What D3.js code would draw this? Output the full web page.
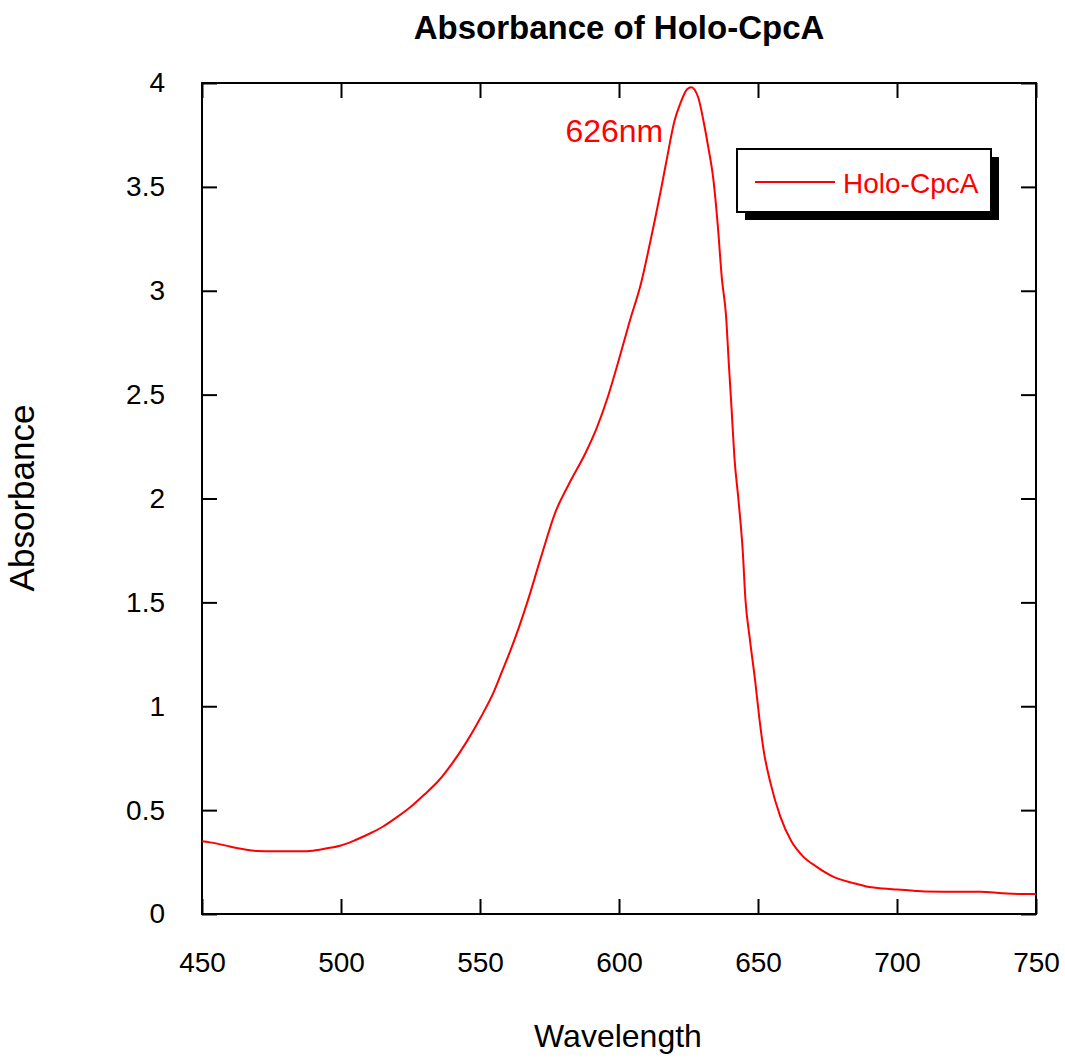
<!DOCTYPE html>
<html>
<head>
<meta charset="utf-8">
<script src="https://cdn.jsdelivr.net/npm/d3@7"></script>
<style>
  body { margin: 0; background: #fff; }
  text { font-family: "Liberation Sans", Arial, sans-serif; }
</style>
</head>
<body>
<svg id="viz" width="1065" height="1059"></svg>
<script>
const svg = d3.select("#viz");
const width = +svg.attr("width");
const height = +svg.attr("height");
const margin = { top: 83, right: 29, bottom: 145, left: 202 };

// data
const wavelength = [450, 455, 460, 465, 470, 475, 480, 485, 490, 495, 500, 505, 510, 515, 520, 525, 530, 535, 540, 545,
  550, 555, 558, 561, 564, 567, 572, 577, 582, 588, 592, 596, 600, 604, 608, 611, 615, 617, 620, 622, 624.5, 626,
  628.5, 630.5, 632, 634, 635.5, 637, 638.5, 639.5, 640.5, 641.5, 643, 644.5, 645.5, 647, 649, 650.5, 652, 654.5,
  658, 662, 666, 671, 677, 684, 690, 695, 700, 706, 710, 720, 730, 738, 745, 750];
const absorbance = [0.35, 0.34, 0.325, 0.312, 0.303, 0.302, 0.302, 0.302, 0.305, 0.316, 0.33, 0.355, 0.385, 0.42, 0.465,
  0.515, 0.575, 0.64, 0.725, 0.825, 0.94, 1.07, 1.17, 1.27, 1.38, 1.5, 1.72, 1.93, 2.07, 2.22, 2.34, 2.49, 2.67, 2.86,
  3.04, 3.22, 3.48, 3.62, 3.82, 3.9, 3.97, 3.98, 3.93, 3.81, 3.7, 3.53, 3.32, 3.06, 2.88, 2.65, 2.43, 2.2, 1.99, 1.75,
  1.51, 1.33, 1.12, 0.94, 0.79, 0.63, 0.47, 0.35, 0.28, 0.228, 0.18, 0.15, 0.13, 0.123, 0.118, 0.112, 0.108, 0.107,
  0.107, 0.1, 0.096, 0.096];
const xTicks = [450, 500, 550, 600, 650, 700, 750];
const yTicks = [0, 0.5, 1, 1.5, 2, 2.5, 3, 3.5, 4];
const seriesName = "Holo-CpcA";
const peakLabel = "626nm";
const peakWavelength = 626;

const points = wavelength.map((w, i) => ({ w, a: absorbance[i] }));

const x = d3.scaleLinear().domain([450, 750]).range([margin.left, width - margin.right]);
const y = d3.scaleLinear().domain([0, 4]).range([height - margin.bottom, margin.top]);
const tickLen = 15;
const fmt = d3.format("~g");

function styleAxis(g) {
  g.select(".domain").remove();
  g.selectAll(".tick line").attr("stroke", "#000").attr("stroke-width", 2);
}

// bottom axis (ticks inside)
svg.append("g")
  .attr("transform", `translate(0,${y(0)})`)
  .call(d3.axisBottom(x).tickValues(xTicks).tickSizeInner(-tickLen).tickSizeOuter(0).tickPadding(tickLen + 23).tickFormat(fmt))
  .call(styleAxis)
  .selectAll("text").attr("font-size", "28px").attr("fill", "#000");

// top ticks
svg.append("g")
  .attr("transform", `translate(0,${y(4)})`)
  .call(d3.axisTop(x).tickValues(xTicks).tickSizeInner(-tickLen).tickSizeOuter(0).tickFormat(""))
  .call(styleAxis);

// left axis
svg.append("g")
  .attr("transform", `translate(${x(450)},0)`)
  .call(d3.axisLeft(y).tickValues(yTicks).tickSizeInner(-tickLen).tickSizeOuter(0).tickPadding(tickLen + 22).tickFormat(fmt))
  .call(styleAxis)
  .selectAll("text").attr("font-size", "28px").attr("fill", "#000");

// right ticks
svg.append("g")
  .attr("transform", `translate(${x(750)},0)`)
  .call(d3.axisRight(y).tickValues(yTicks).tickSizeInner(-tickLen).tickSizeOuter(0).tickFormat(""))
  .call(styleAxis);

// frame
svg.append("rect")
  .attr("x", x(450)).attr("y", y(4))
  .attr("width", x(750) - x(450)).attr("height", y(0) - y(4))
  .attr("fill", "none").attr("stroke", "#000").attr("stroke-width", 2);

// curve
const line = d3.line().x(d => x(d.w)).y(d => y(d.a)).curve(d3.curveMonotoneX);
svg.append("path")
  .datum(points)
  .attr("fill", "none")
  .attr("stroke", "#ff0000")
  .attr("stroke-width", 2)
  .attr("d", line);

// peak annotation
svg.append("text")
  .attr("x", x(peakWavelength) - 28)
  .attr("y", y(4) + 59)
  .attr("text-anchor", "end")
  .attr("font-size", "32px")
  .attr("fill", "#ff0000")
  .text(peakLabel);

// legend
const legend = svg.append("g").attr("transform", "translate(737,149)");
legend.append("rect").attr("x", 8).attr("y", 8).attr("width", 254).attr("height", 63).attr("fill", "#000");
legend.append("rect").attr("width", 254).attr("height", 63).attr("fill", "#fff").attr("stroke", "#000").attr("stroke-width", 2);
legend.append("line").attr("x1", 18).attr("x2", 98).attr("y1", 33).attr("y2", 33).attr("stroke", "#ff0000").attr("stroke-width", 2);
legend.append("text").attr("x", 106).attr("y", 44).attr("font-size", "28px").attr("fill", "#ff0000").text(seriesName);

// title and axis labels
svg.append("text")
  .attr("x", 619).attr("y", 39)
  .attr("text-anchor", "middle")
  .attr("font-size", "33px")
  .attr("font-weight", "bold")
  .text("Absorbance of Holo-CpcA");

svg.append("text")
  .attr("x", 618).attr("y", 1047)
  .attr("text-anchor", "middle")
  .attr("font-size", "32px")
  .text("Wavelength");

svg.append("text")
  .attr("transform", "translate(34,498) rotate(-90)")
  .attr("text-anchor", "middle")
  .attr("font-size", "35px")
  .text("Absorbance");
</script>
</body>
</html>
